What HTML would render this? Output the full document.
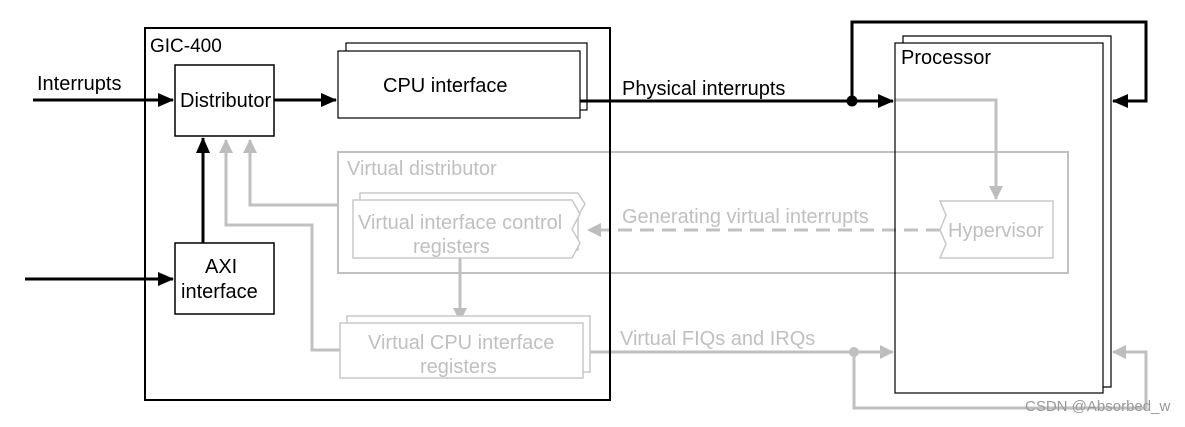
<!DOCTYPE html>
<html><head><style>
body{margin:0;background:#fff;width:1185px;height:422px;overflow:hidden}
svg text{font-family:"Liberation Sans",Arial,sans-serif}
</style></head><body>
<svg width="1185" height="422" viewBox="0 0 1185 422" xmlns="http://www.w3.org/2000/svg">
<defs>
<marker id="ag" markerWidth="14" markerHeight="14" refX="13" refY="7" orient="auto" markerUnits="userSpaceOnUse"><path d="M0,0 L14,7 L0,14 z" fill="#bdbdbd"/></marker>
<marker id="abk" markerWidth="16" markerHeight="14" refX="15" refY="7" orient="auto" markerUnits="userSpaceOnUse"><path d="M0,0 L16,7 L0,14 z" fill="#000"/></marker>
</defs>
<g stroke="#c0c0c0" stroke-width="3" fill="none">
<rect x="338" y="152" width="730" height="121" stroke-width="2"/>
<polyline points="338,205 250,205 250,140" marker-end="url(#ag)"/>
<polyline points="340,350 312,350 312,225 226,225 226,140" marker-end="url(#ag)"/>
<polyline points="895,100 996,100 996,199" marker-end="url(#ag)"/>
<line x1="460" y1="258" x2="460" y2="321" marker-end="url(#ag)"/>
<line x1="940" y1="230" x2="588" y2="230" stroke-dasharray="14,8" marker-end="url(#ag)"/>
<line x1="583" y1="352" x2="893" y2="352" marker-end="url(#ag)"/>
<polyline points="854,352 854,408 1146,408 1146,352 1113,352" marker-end="url(#ag)"/>
</g>
<circle cx="854" cy="352" r="5" fill="#c0c0c0"/>
<g stroke="#c8c8c8" stroke-width="1.5" fill="#fff">
<path d="M360,193 L578,193 L585,204 L578,216 L578,250 L360,250 z"/>
<path d="M353,200 L572,200 L580,214 L572,229 L580,243 L572,258 L353,258 z"/>
<path d="M940,201 L1053,201 L1053,258 L940,258 L946,244 L940,230 L946,215 z"/>
<rect x="347" y="316" width="243" height="56"/>
<rect x="340" y="323" width="243" height="55"/>
</g>
<g fill="#c0c0c0" font-size="20">
<text x="347" y="175">Virtual distributor</text>
<text x="358" y="229">Virtual interface control</text>
<text x="413" y="253">registers</text>
<text x="622" y="223">Generating virtual interrupts</text>
<text x="948" y="237">Hypervisor</text>
<text x="368" y="349">Virtual CPU interface</text>
<text x="420" y="373">registers</text>
<text x="620" y="345">Virtual FIQs and IRQs</text>
</g>
<g stroke="#000" fill="none">
<rect x="145" y="28" width="465" height="372" stroke-width="2"/>
<rect x="175" y="65" width="99" height="71" stroke-width="1.5" fill="#fff"/>
<rect x="175" y="243" width="99" height="71" stroke-width="1.5" fill="#fff"/>
<rect x="346" y="43" width="241" height="67" stroke-width="1.2" fill="#fff"/>
<rect x="338" y="51" width="242" height="67" stroke-width="1.2" fill="#fff"/>
<path d="M903,43 L903,36 L1111,36 L1111,387 L1103,387" stroke-width="1.2"/>
<rect x="895" y="43" width="208" height="350" stroke-width="1.2"/>
<g stroke-width="3">
<line x1="33" y1="100" x2="173" y2="100" marker-end="url(#abk)"/>
<line x1="25" y1="279" x2="173" y2="279" marker-end="url(#abk)"/>
<line x1="203" y1="243" x2="203" y2="138" marker-end="url(#abk)"/>
<line x1="274" y1="100" x2="336" y2="100" marker-end="url(#abk)"/>
<line x1="580" y1="101" x2="893" y2="101" marker-end="url(#abk)"/>
<polyline points="852,101 852,22 1146,22 1146,101 1113,101" marker-end="url(#abk)"/>
</g>
</g>
<circle cx="852" cy="101" r="5.5" fill="#000"/>
<g fill="#000" font-size="20">
<text x="150" y="52" font-size="19">GIC-400</text>
<text x="37" y="90">Interrupts</text>
<text x="180" y="107">Distributor</text>
<text x="205" y="273">AXI</text>
<text x="181" y="298">interface</text>
<text x="383" y="92">CPU interface</text>
<text x="622" y="95">Physical interrupts</text>
<text x="901" y="64">Processor</text>
</g>
<text x="1025" y="411" font-size="15" fill="#999">CSDN @Absorbed_w</text>
</svg>
</body></html>
